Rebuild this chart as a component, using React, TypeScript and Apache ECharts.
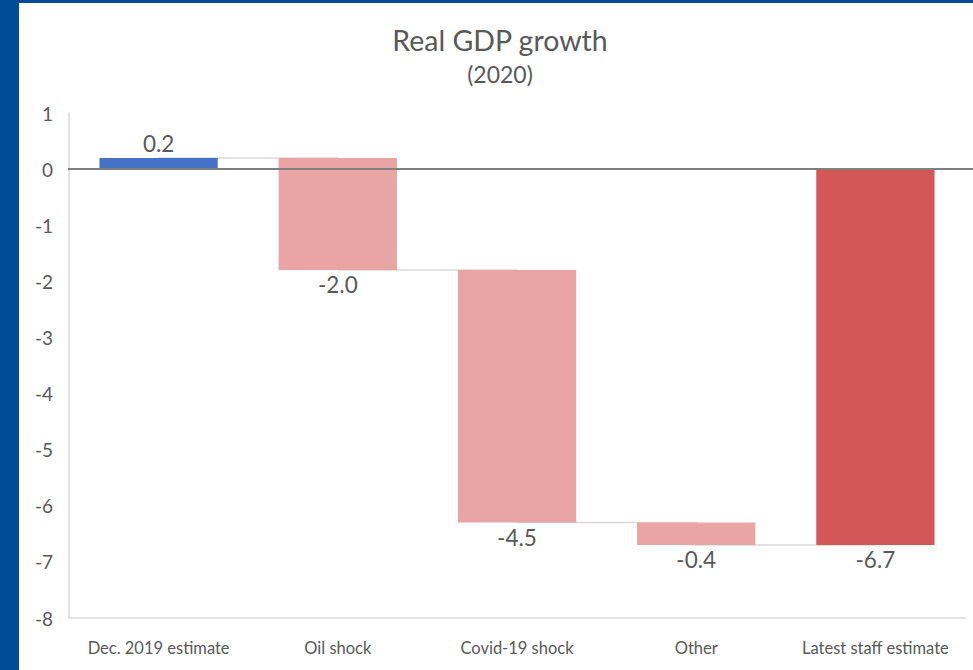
import React, { useEffect, useRef } from "react";
import * as echarts from "echarts";

const categories = ["Dec. 2019 estimate", "Oil shock", "Covid-19 shock", "Other", "Latest staff estimate"];
const changes = [0.2, -2.0, -4.5, -0.4, -6.7];
// which bars start from zero (totals) vs. float from previous level
const isTotal = [true, false, false, false, true];
const barColors = ["#4472C4", "#E8A5A4", "#E8A5A4", "#E8A5A4", "#D45757"];
const yTicks = { min: -8, max: 1, interval: 1 };
const titleText = "Real GDP growth";
const subtitleText = "(2020)";

const FONT = "Lato, 'Open Sans', sans-serif";
const TEXT = "#595959";

export default function App() {
  const ref = useRef<HTMLDivElement>(null);
  useEffect(() => {
    if (!ref.current) return;
    const chart = echarts.init(ref.current, undefined, { renderer: "svg" });

    const bases: number[] = [];
    const levels: number[] = [];
    let level = 0;
    changes.forEach((c, i) => {
      if (isTotal[i]) {
        bases.push(0);
        level = c;
      } else {
        bases.push(level);
        level = level + c;
      }
      levels.push(level);
    });

    chart.setOption({
      animation: false,
      backgroundColor: "#ffffff",
      textStyle: { fontFamily: FONT },
      graphic: [
        { type: "rect", left: 0, top: 0, shape: { width: 19, height: 670 }, style: { fill: "#004C97" }, z: 10 },
        { type: "rect", left: 0, top: 0, shape: { width: 973, height: 3 }, style: { fill: "#004C97" }, z: 10 },
        {
          type: "text",
          x: 500,
          y: 25,
          style: { text: titleText, fontSize: 28.5, fontFamily: FONT, fill: TEXT, textAlign: "center", textVerticalAlign: "top" },
        },
        {
          type: "text",
          x: 500,
          y: 62,
          style: { text: subtitleText, fontSize: 23, fontFamily: FONT, fill: TEXT, textAlign: "center", textVerticalAlign: "top" },
        },
      ],
      grid: { left: 69, right: 8, top: 113, bottom: 52, containLabel: false },
      xAxis: {
        type: "category",
        data: categories,
        axisLine: { onZero: false, lineStyle: { color: "#D9D9D9", width: 1.5 } },
        axisTick: { show: false },
        axisLabel: { color: TEXT, fontSize: 16.5, margin: 21, fontFamily: FONT, interval: 0 },
        splitLine: { show: false },
      },
      yAxis: {
        type: "value",
        min: yTicks.min,
        max: yTicks.max,
        interval: yTicks.interval,
        axisLine: { show: true, lineStyle: { color: "#D9D9D9", width: 1.5 } },
        axisTick: { show: false },
        splitLine: { show: false },
        axisLabel: { color: TEXT, fontSize: 19, margin: 16, fontFamily: FONT },
      },
      series: [
        {
          name: "connector",
          type: "line",
          step: "end",
          data: levels,
          symbol: "none",
          z: 1,
          lineStyle: { color: "#D9D9D9", width: 1.5 },
          silent: true,
        },
        {
          name: "base",
          type: "bar",
          stack: "wf",
          stackStrategy: "all",
          barWidth: "66%",
          data: bases,
          itemStyle: { color: "transparent" },
          z: 2,
          silent: true,
        },
        {
          name: "change",
          type: "bar",
          stack: "wf",
          stackStrategy: "all",
          barWidth: "66%",
          z: 3,
          data: changes.map((v, i) => ({
            value: v,
            itemStyle: { color: barColors[i] },
            label: { position: v >= 0 ? "top" : "bottom" },
          })),
          label: {
            show: true,
            fontSize: 22.5,
            color: TEXT,
            fontFamily: FONT,
            distance: 3,
            formatter: (p: any) => Number(p.value).toFixed(1),
          },
          markLine: {
            silent: true,
            symbol: "none",
            z: 10,
            label: { show: false },
            lineStyle: { color: "#7F7F7F", width: 2, type: "solid" },
            data: [[{ x: 68, yAxis: 0 }, { x: 973, yAxis: 0 }]],
          },
        },
      ],
    });
    return () => chart.dispose();
  }, []);
  return <div ref={ref} style={{ position: "fixed", left: 0, top: 0, width: 973, height: 670 }} />;
}
